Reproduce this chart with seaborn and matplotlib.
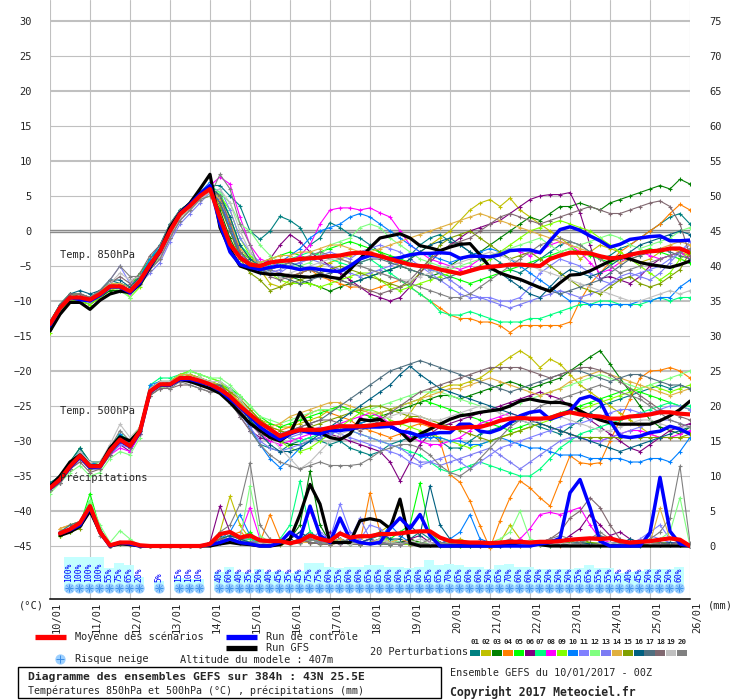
import numpy as np
import pandas as pd
import matplotlib
matplotlib.use("Agg")
import matplotlib.pyplot as plt
import matplotlib.transforms as mtransforms
from matplotlib.lines import Line2D
from matplotlib.patches import Rectangle
import seaborn as sns

NA = float("nan")

# ---------------- data ----------------
HOURS = list(range(0, 385, 6))            # 65 forecast steps (6 h)
DATES = ["10/01", "11/01", "12/01", "13/01", "14/01", "15/01", "16/01", "17/01", "18/01",
         "19/01", "20/01", "21/01", "22/01", "23/01", "24/01", "25/01", "26/01"]
MEMBERS = ["%02d" % i for i in range(1, 21)]
PERT_COLORS = ["#008080", "#c0c000", "#008000", "#ff8000", "#00ff00", "#800080", "#00ff80",
               "#ff00ff", "#80ff00", "#0080ff", "#8080ff", "#80ff80", "#7c7cf4", "#e0b040",
               "#80a000", "#006080", "#507080", "#806870", "#c0c0c0", "#808080"]

SNOW_HOURS = list(range(12, 384, 6))
SNOW_PCT = [100, 100, 100, 100, 55, 75, 65, 20, None, 5, None, 15, 10, 10, None, 40, 60, 40, 35, 50,
            40, 45, 35, 45, 75, 75, 60, 55, 60, 60, 65, 65, 60, 60, 55, 60, 85, 65, 70, 65,
            60, 60, 50, 65, 70, 60, 60, 50, 50, 50, 50, 55, 65, 55, 55, 35, 40, 45, 50, 50,
            50, 60]

# ---- 850 hPa temperature ----
T850_MEAN = [-13.3, -11, -9.5, -9.5, -9.8, -9, -7.9, -7.9, -8.6, -7.1, -4.8, -2.9, 0, 2.4, 3.6, 5, 6] + \
    [1.9, -1.9, -3.8, -4.8, -5, -4.5, -4.3, -4.2, -4, -3.9, -3.8, -3.6] + \
    [-3.5, -3.2, -3.1, -3.2, -3.6, -4, -4.4, -4.8, -5, -5.1, -5.5, -5.8] + \
    [-6.1, -5.7, -5.3, -5.1, -5, -4.8, -4.8, -4.9, -5, -4, -3.5, -3.1] + \
    [-3.1, -3.2, -3.6, -3.9, -3.8, -3.4, -3.1, -2.9, -2.8, -2.5, -2.5, -3.1]
T850_CTRL = [-13.5, -11, -9.5, -9.8, -10, -9.2, -8, -8, -8.8, -7.4, -5, -3, 0, 2.5, 3.8, 5.3, 6.5] + \
    [1, -3, -4.8, -5.2, -5.5, -5.2, -5, -5.2, -5.5, -5.3, -5.5, -5.7] + \
    [-5.8, -5, -4, -3.5, -3.6, -4, -3.8, -3.4, -3.2, -3.2, -3.1, -3.2] + \
    [-3.9, -3.6, -3.6, -3.7, -3.4, -2.8, -2.7, -2.7, -3.1, -1.4, 0.2, 0.6] + \
    [0.1, -0.7, -1.4, -2.3, -1.9, -1.2, -1, -0.8, -0.7, -1.4, -1.4, -1.3]
T850_GFS = [-14.3, -11.9, -10.2, -10.2, -11.2, -9.9, -9, -8.6, -8.8, -7.6, -5.2, -2.9, 0.5, 2.6, 4, 6, 8.1] + \
    [0.5, -2.6, -5, -5.5, -6, -6.2, -6.2, -6.4, -6.5, -6.6, -6.3, -6.6] + \
    [-6.8, -5.5, -4, -2.4, -1, -0.7, -0.4, -1, -2.1, -2.4, -2.8, -2.3] + \
    [-1.9, -1.8, -3.4, -5.2, -6, -6.5, -6.9, -7.5, -8.1, -8.6, -7.4, -6.3] + \
    [-6.2, -5.7, -5, -4.3, -3.6, -4, -4.5, -4.8, -5, -5.2, -4.8, -4.3]

T850_P01 = [-13, -10.5, -9, -9, -9.5, -8.5, -7, -7.5, -8, -6.5, -4, -2.5, 0.5, 3, 4, 5.5, 6.5] + \
    [6.5, 5, 3.6, 0, -1.2, 0, 2.1, 1.5, 0.5, -2, -1, 1.2] + [0.5, -0.5, -1, -2, -3, -4.5, -4, -3.5, -2, -1, -0.5, -1.5] + \
    [-2, -3, -4, -3.5, -4.5, -5.5, -6, -5, -4, -3, -2, -1.5] + [-2, -3, -4, -3.5, -2.5, -2, -1, 0, 1, 2, 2.5, 1]
T850_P02 = [-13.5, -11, -9.5, -10, -10, -9.5, -8.5, -8, -9, -7.5, -5.5, -3.5, -0.5, 2, 3.5, 4.5, 5.5] + \
    [5, 2, -2, -4, -5.5, -7.5, -8, -7, -6, -5.5, -5, -4.5] + [-4, -3.5, -3, -2.5, -3, -4, -5, -4, -3, -2, -1, 0] + \
    [1.5, 3, 4, 4.5, 3.5, 4.7, 3, 2, 1, 0, -1, -2] + [-4, -3, -2, -2.5, -3, -4, -4.5, -4, -3, -2.5, -3, -3.5]
T850_P03 = [-14, -11.5, -10, -10, -10.5, -9.5, -8.5, -8.5, -9, -7.5, -5, -3, 0, 2.5, 3.5, 5, 6] + \
    [3, -1, -4, -5, -5.5, -6, -6.5, -6.5, -7, -7.5, -8, -8.6] + [-8, -7.5, -7, -6.5, -6, -5.5, -5, -5.5, -6, -6.5, -6, -5] + \
    [-4, -3.5, -3, -2, -1, 0, 1, 2, 1.5, 2.5, 3.5, 3.5] + [4, 3.5, 3, 4, 4.5, 5, 5.5, 6, 6.5, 6, 7.4, 6.7]
T850_P04 = [-13.5, -11, -9.5, -9, -9.5, -8.5, -7.5, -8, -8.5, -7.5, -5.5, -4, -1, 1.5, 3, 4.5, 5.5] + \
    [4, 0, -3, -4.5, -5, -5.5, -6, -6.5, -6, -5.5, -6.5, -7] + [-7.5, -8, -8, -8.5, -8, -7.5, -7, -8, -9, -10, -11, -12] + \
    [-12.5, -12.5, -13, -13, -13.5, -14.5, -13.5, -13.5, -13.5, -13.5, -13.5, -13] + [-10, -7.6, -6, -4.5, -3, -2, -1, 0, 1, 2.5, 3.8, 3]
T850_P05 = [-13, -10.5, -9, -9, -9.5, -8.5, -7.5, -7.5, -8, -6, -4, -2, 1, 3, 4, 5.5, 6.5] + \
    [5, 1, -3, -4, -4.5, -4, -3.5, -3, -3.5, -4, -3, -2.5] + [-2, -1.5, -2, -2.5, -3, -3.5, -4, -4.5, -5, -5.5, -6, -6.5] + \
    [-7, -7.5, -7, -6.5, -6, -5.5, -5, -4.5, -4, -3.5, -3, -2.5] + [-3, -3.5, -4, -4.5, -4, -3.5, -3, -2.5, -3, -3.5, -4, -4.5]
T850_P06 = [-13.5, -11, -9.5, -9, -9.5, -9, -7.5, -7.5, -8.5, -7, -4.5, -2.5, 0.5, 2.5, 4, 5.5, 6.5] + \
    [4, 1, -3, -4.5, -5, -4, -2, -0.5, -1.5, -3, -4, -5] + [-6, -7, -8, -9, -9.5, -10, -9.5, -8, -6, -4.5, -3, -2] + \
    [-1, 0, 0.5, 1, 1.5, 2.5, 3.5, 4.5, 5, 5.2, 5.2, 5.5] + [2.6, -2, -6.8, -6.5, -7, -7.5, -6.5, -5, -4, -3.5, -3, -4]
T850_P07 = [-13, -10.5, -9, -9.5, -9.5, -8.5, -7.5, -8, -8.5, -6.5, -4, -2, 1, 3, 4, 5.5, 6.5] + \
    [5.5, 2, -2, -3.5, -4.5, -5, -4.5, -4, -3.5, -3, -3.5, -4] + [-4.5, -5, -4.5, -4, -5, -6, -7, -8, -9, -10, -11.5, -12] + \
    [-12, -11.5, -12, -12.5, -13, -13, -13, -12.5, -12.5, -12, -11.5, -11] + [-10.5, -10.5, -10, -10, -10.5, -10.5, -10.5, -10, -9.5, -10, -9.5, -9.5]
T850_P08 = [-13.5, -11, -9.5, -9.5, -10, -9, -8, -8, -9, -7, -4.5, -2.5, 0.5, 2.5, 3.5, 5, 6.5] + \
    [7.7, 6.7, 2, -2, -4, -4.5, -5, -4.5, -3.5, -2, 1, 3] + [3.3, 3.3, 3, 3.3, 2.6, 2, 0, -2, -3, -4, -4.5, -5] + \
    [-5.5, -5, -4, -3.5, -3, -2.5, -3, -3.5, -3, -2, -1.5, -2] + [-3, -4.5, -6, -5.5, -4.5, -3.5, -3, -3.5, -4, -3.5, -3, -4]
T850_P09 = [-14.5, -11.5, -10, -10, -10.5, -9.5, -8, -8, -9.5, -8, -5.5, -3.5, -0.5, 2, 3, 4.5, 5] + \
    [5, 3, -1, -3.5, -5, -6, -7, -7.5, -7.5, -7.5, -8, -7.5] + [-7, -6.5, -6, -6, -7, -8, -8.5, -8, -7.5, -7, -6.5, -6] + \
    [-6, -5.5, -5, -4, -3, -2, -1, 0, 0.5, 1, 1.5, 1] + [0.5, 0, -1, -2, -3, -4, -5, -6, -7, -6, -4, -3]
T850_P10 = [-13, -10.5, -9, -9, -9.5, -8.5, -7.5, -7.5, -8, -6.5, -4, -2, 1, 3, 4, 5.5, 7] + \
    [4, 0.5, -3.5, -5.5, -6, -5.5, -4.5, -3.5, -2.5, -1, 0, 0.5] + [1, 2, 2.5, 2, 1, 0, -1, -2, -3, -3.5, -4, -4.5] + \
    [-4, -3.5, -3, -2.5, -3, -4, -5, -6, -7, -8, -9, -10] + [-10, -10.5, -10.5, -10.5, -10.5, -10.5, -10, -10, -9.5, -9.5, -8, -7]
T850_P11 = [-13.5, -11, -9.5, -9.5, -9.5, -8.5, -7, -5, -7.5, -7, -5.5, -4, -1, 1.5, 3, 4.5, 5.5] + \
    [6, 3, -1, -3, -4.5, -5.5, -6, -5, -4.5, -4, -3.5, -3] + [-3.5, -4, -3, -2.5, -2, -2.5, -3, -4, -5, -6, -7, -8] + \
    [-9, -9.5, -9.5, -9.5, -10, -10, -9.5, -8, -6, -5, -4, -4.5] + [-5, -6, -7, -7.5, -7, -6.5, -6, -5.5, -5, -4, -3, -2]
T850_P12 = [-13.5, -11, -9.5, -9.5, -10, -9, -8, -8.5, -9.5, -7.5, -5, -3, 0, 2.5, 3.5, 5, 6] + \
    [5.5, 4, 1, 0, -2, -3.5, -4.5, -5, -5, -4.5, -3.5, -2] + [-1.5, -1, 0.5, 1, 0.5, -1, -2, -3, -4, -4.5, -5, -5.5] + \
    [-5, -4.5, -4, -3.5, -3, -2.5, -2, -1.5, -1, -2, -3, -2.5] + [-2, -1.5, -1, -0.5, -1, -2, -2.5, -2, -1.5, -1, 0, 0.5]
T850_P13 = [-13.5, -11, -9.5, -10, -10, -9, -8, -8, -8.5, -7.5, -6, -4.5, -1.5, 1, 2.5, 4, 5.5] + \
    [4.5, 1, -3, -5, -5.5, -6, -5.5, -5, -4.5, -4, -4.5, -5] + [-5.5, -6, -6.5, -6, -5.5, -5, -4.5, -4.5, -5, -5.5, -6, -7] + \
    [-8, -9, -9.5, -10, -10.5, -11, -10.5, -10, -9.5, -9, -8.5, -9] + [-9.5, -9, -8.5, -7.5, -6.5, -6, -6.5, -7, -6, -4.5, -3, -1.5]
T850_P14 = [-13, -10.5, -9, -9, -9.5, -8.5, -7.5, -7.5, -8, -6.5, -5, -3.5, -0.5, 2, 3.5, 5, 6] + \
    [4.5, 1.5, -2.5, -4, -4.5, -4, -3.5, -3.5, -3, -3, -2.5, -2] + [-2, -2.5, -3, -3, -2.5, -2, -1.5, -1, -0.5, 0, 0.5, 1] + \
    [1.5, 2, 2.5, 2, 1.5, 1, 0.5, 0, -0.5, -1, -1.5, -2] + [-2.5, -3, -3.5, -4, -4.5, -4, -3.5, -3, -2.5, -2, -1.5, -2]
T850_P15 = [-13.5, -11, -9.5, -9.5, -10, -9, -8, -8, -8.5, -7, -4.5, -2.5, 0.5, 2.5, 3.5, 5, 6] + \
    [3.5, 0, -4, -6, -7, -8.5, -8, -7.5, -7, -6.5, -6, -5.5] + [-5, -5.5, -6, -6.5, -7, -7.5, -8, -7.5, -6, -4, -2, -1] + \
    [-0.5, 0, -1, -2, -3, -4, -3.5, -3, -4, -5, -6, -7] + [-8, -8.5, -9, -8, -7, -6.5, -7.5, -8, -7.5, -6.5, -5.5, -3]
T850_P16 = [-13, -10.5, -9, -8.5, -9, -8.5, -7, -7, -8, -6.5, -4.5, -2.5, 0.5, 2.5, 4, 5.5, 6.5] + \
    [5, 2, -2, -4, -5, -5.5, -5, -4.5, -5, -5.5, -6, -6.5] + [-7, -7.5, -7, -6.5, -6, -5.5, -5, -4, -3, -2, -1.5, -1] + \
    [-2, -3, -4, -5, -6, -7, -8, -9, -9.5, -8, -6.5, -5.5] + [-6, -6.5, -6, -5, -4, -3, -2, -1.5, -1, -0.5, 0, -0.5]
T850_P17 = [-13.5, -11, -9.5, -9.5, -10, -9, -8, -8, -8.5, -7, -4.5, -3, 0, 2.5, 3.5, 5, 6] + \
    [4, 0, -3.5, -5, -5.5, -6, -6.5, -7, -7.5, -7, -6.5, -6] + [-5.5, -5, -4.5, -4, -4, -4.5, -5, -5.5, -6, -6.5, -7, -6.5] + \
    [-6, -5.5, -5, -5.5, -6, -6.5, -7, -7.5, -8, -8.5, -9, -8.5] + [-8, -7.5, -7, -6, -5, -4, -3.5, -3, -2.5, -3, -3.5, -4]
T850_P18 = [-13, -10.5, -9, -9, -9.5, -9, -7.5, -6.5, -7.5, -6, -3.5, -2, 1, 3, 4, 5, 6] + \
    [5, 1, -3, -4.5, -5, -6.5, -7, -6.5, -6, -5.5, -6, -6.5] + [-7, -7.5, -8, -8.5, -9, -8.5, -8, -7, -5.5, -4, -3, -2] + \
    [-1.5, -1, 0, 1, 2, 2.5, 2, 1.5, 1, 1.5, 2, 2.5] + [3, 3.5, 3, 2.5, 2.5, 3, 3.5, 4, 4.3, 3.5, 1, -3.5]
T850_P19 = [-13.5, -11, -9.5, -9.5, -10, -9, -7.5, -6, -7, -6.5, -5, -3.5, -0.5, 2, 3, 4.5, 5.5] + \
    [6, 4, 0, -3, -5, -6, -6.5, -6, -5.5, -5, -4.5, -4] + [-4, -4.5, -5, -5.5, -6, -6.5, -7, -7, -6.5, -6, -5.5, -5] + \
    [-4.5, -4, -3.5, -3, -3.5, -4, -4.5, -5, -5.5, -6, -6.5, -7] + [-7.5, -8, -8.5, -9, -9.5, -10, -10, -9.5, -9, -8.5, -9, -8.5]
T850_P20 = [-13.5, -11, -9.5, -9.5, -9.5, -8.5, -7, -5, -6.5, -6.5, -5.5, -4, -1, 1.5, 3, 4.5, 5] + \
    [8.1, 6, 1, -2, -5.5, -5.5, -5, -4.5, -4, -3.5, -3, -3.5] + [-4, -4.5, -5, -5.5, -6, -6.5, -7, -7.5, -8, -8.5, -9, -9.5] + \
    [-9.5, -9, -8, -7, -6, -5, -4, -3, -2, -1.5, -1, -1.5] + [-2, -3, -4, -5, -6, -5.5, -5, -4.5, -4, -3.5, -3, -2.5]

# ---- 500 hPa temperature ----
T500_MEAN = [-36.7, -35.5, -33.6, -32.1, -33.6, -33.6, -31.4, -29.8, -30.7, -28.6, -22.9, -21.9, -21.9, -21, -21, -21.4, -21.9] + \
    [-22.6, -23.6, -25, -26.2, -27.4, -28.3, -29.3, -28.8, -28.4, -28.4, -28.4, -28.1] + \
    [-27.9, -27.9, -27.9, -27.8, -27.6, -27.5, -27.4, -27, -27.1, -27.6, -28, -28.2] + \
    [-28.1, -28, -28, -27.6, -27.1, -26.8, -26.7, -26.8, -26.8, -26.7, -26.2, -25.9] + \
    [-26.2, -26.4, -26.5, -26.8, -26.8, -26.5, -26.4, -26.2, -25.9, -25.9, -26.1, -26.2]
T500_CTRL = [-36.8, -35.6, -33.8, -32.3, -33.8, -33.7, -31.5, -30, -30.8, -28.8, -23, -22, -22, -21.2, -21.2, -21.6, -22] + \
    [-22.8, -24, -25.2, -26.5, -28, -29, -29.8, -29, -28.5, -28.8, -29, -28.5] + \
    [-28.5, -28.3, -28, -28, -28, -27.9, -28.6, -28.8, -29.3, -29, -28.8, -28.8] + \
    [-27.6, -27.6, -28.6, -28.8, -28.3, -27.4, -26.4, -25.9, -25.7, -26.9, -26.4, -25.7] + \
    [-24, -23.6, -24.3, -27.1, -29.3, -29.5, -29.3, -28.8, -28.6, -27.9, -28.3, -29]
T500_GFS = [-36.5, -35, -33, -32, -33.5, -33.5, -31, -29.4, -30, -28.5, -23, -22, -22, -21.2, -21.5, -22, -22.5] + \
    [-23.2, -24.5, -26, -27.5, -28.5, -29.5, -30, -29, -25.9, -28.1, -28.8, -29.5] + \
    [-29.8, -29, -26.9, -27.1, -26.9, -27.9, -28.6, -30, -29, -28.3, -27.6, -26.9] + \
    [-26.4, -26.2, -25.9, -25.7, -25.5, -25, -24.3, -24, -24.3, -24.5, -24.5, -24.8] + \
    [-25.7, -26.4, -27, -27.4, -27.6, -27.6, -27.6, -27.6, -27.1, -26.4, -25.5, -24.3]

T500_P01 = [-36.5, -35, -33, -31.5, -33, -33.5, -31, -29.5, -30.5, -28.5, -23, -22, -21.5, -20.5, -20.5, -21, -21.5] + \
    [-22, -22.5, -24, -28.5, -30.5, -31, -31.5, -30.5, -30, -29.5, -30, -30.5] + [-30, -31, -31.5, -32, -31.5, -30.5, -30, -29.5, -29, -29, -30, -31] + \
    [-31, -30, -29, -28.5, -28, -27.5, -27, -27.5, -28, -28.5, -29, -28] + [-27, -26, -25, -24.5, -24, -23.5, -23, -22.5, -22, -22.5, -22, -22.5]
T500_P02 = [-37, -36, -34, -32.5, -34, -34, -32, -30, -31, -29, -23, -22, -22, -21.5, -21.5, -22, -22.5] + \
    [-22, -23, -24.5, -26, -27, -27.5, -28, -28, -27.5, -27, -26.5, -25.5] + [-25, -25.5, -26, -26.5, -27, -27.5, -27.5, -26, -24, -23, -22.5, -22] + \
    [-22, -21.5, -21, -20, -19, -18, -17.1, -18, -19.5, -18.3, -19, -20.5] + [-22, -23, -24, -25, -26, -27, -28, -29, -29.5, -29.5, -29.5, -29.5]
T500_P03 = [-36.5, -35.5, -33.5, -31.5, -33.5, -33.5, -31.5, -29.5, -31, -28.5, -22.5, -21.5, -21.5, -21, -21, -21.5, -22] + \
    [-22.5, -23.5, -25, -27, -28.5, -29.5, -30, -30.5, -30.5, -30, -29.5, -29] + [-28.5, -28, -27.5, -27, -26.5, -26, -25.5, -25, -24.5, -24, -23.5, -23.5] + \
    [-24, -23.5, -23, -22.5, -22, -21.5, -22, -22.5, -22, -21.5, -21, -20] + [-19, -18, -17.1, -19, -21, -23, -25, -27, -28, -28.5, -29, -28]
T500_P04 = [-37, -35.5, -34, -32.5, -34, -34, -31, -29.5, -30, -28, -22.5, -21.5, -22, -21, -20.5, -21, -21.5] + \
    [-22, -23, -24, -25.5, -27, -28, -28.5, -28, -27, -26, -25.5, -26] + [-26.5, -27, -28, -28.5, -29, -29.5, -29, -28, -27.5, -28, -30, -34.8] + \
    [-35.9, -38.6, -42.1, -45.3, -41.4, -38.1, -35.7, -36.7, -38.1, -39.3, -35.7, -32.1] + [-33.1, -33.3, -33.1, -30, -27, -24, -21, -20, -19.9, -19.5, -20, -21]
T500_P05 = [-36.5, -35, -33, -31, -33, -33, -31, -29, -30.5, -28.5, -22.5, -21.5, -21.5, -20.5, -20.5, -21, -21.5] + \
    [-22, -22.5, -23.5, -25, -26.5, -27.5, -28, -27.5, -27, -26.5, -26, -25.5] + [-25, -25.5, -26, -26.5, -26, -25.5, -25, -24.5, -24, -24.5, -25, -25.5] + \
    [-26, -26.5, -27, -27.5, -28, -28.5, -28, -27.5, -27, -26.5, -26, -25.5] + [-25, -24.5, -24, -23.5, -23, -22.5, -23, -23.5, -24, -24.5, -25, -25.5]
T500_P06 = [-37, -36, -34, -32.5, -34, -33.5, -32, -30.5, -31.5, -29, -23.5, -22.5, -22, -21.5, -21.5, -22, -22.5] + \
    [-22.5, -24, -26.5, -28.5, -29.5, -30, -29.5, -29, -28.5, -28, -28.5, -29] + [-29.5, -30, -30.5, -31, -31.5, -33, -35.7, -33, -30.5, -29, -28, -27.5] + \
    [-27, -26.5, -26, -25.5, -25, -24.5, -24, -23.5, -23, -23.5, -24, -25] + [-26, -27, -28, -29, -30, -31, -31.5, -30.5, -29.5, -28.5, -28, -27.5]
T500_P07 = [-36, -35, -33, -31.5, -33.5, -33.5, -31, -29, -30, -28, -22, -21, -21, -20.5, -20, -20.5, -21] + \
    [-21.5, -22.5, -24, -26, -27.5, -28.5, -29, -29.5, -30, -29.5, -29, -28.5] + [-28, -28.5, -29, -29.5, -30, -30.5, -31, -31.5, -32, -33, -34, -34.5] + \
    [-34, -33.5, -33, -33.5, -34, -34.5, -35, -35, -34, -32.5, -31, -30] + [-29, -28.5, -28, -27.5, -27, -26.5, -26, -25.5, -25, -24.5, -25, -25]
T500_P08 = [-36.5, -35.5, -33.5, -32, -33.5, -33.5, -32, -31, -31.5, -29, -23, -22, -22, -21, -21, -21.5, -22] + \
    [-22.5, -24, -25.5, -27.5, -29, -30, -30.5, -30, -29.5, -29, -28.5, -28] + [-27.5, -27, -26.5, -26, -26.5, -27.5, -28.5, -29.5, -30, -30.5, -30.5, -30] + \
    [-29.5, -28.5, -27.5, -27, -26.5, -26, -26.5, -27, -27.5, -28, -28.5, -29] + [-29.5, -30, -30, -29.5, -29, -28.5, -28.5, -29, -29.5, -29.5, -29, -28.5]
T500_P09 = [-37, -35.5, -33.5, -32, -33.5, -33, -31, -29.5, -30, -28, -22.5, -21.5, -21.5, -20.5, -20, -20.5, -21] + \
    [-21.5, -23, -24.5, -26, -27.5, -28.5, -30, -31, -31.5, -31, -30, -29] + [-28, -27, -26, -25.5, -26, -27, -27.5, -28, -28.5, -29, -29.5, -30] + \
    [-30.5, -31, -30.5, -30, -29.5, -29, -28.5, -28, -27.5, -27, -26.5, -26] + [-25.5, -25, -24.5, -24, -23.5, -23, -22.5, -22, -22.5, -23, -22.5, -22]
T500_P10 = [-36.5, -35, -33, -31.5, -33, -33.5, -31.5, -29, -30.5, -28.5, -22, -21.5, -21.5, -21, -21, -21.5, -22] + \
    [-22.5, -24, -26, -28, -30.5, -32.5, -33.8, -32.5, -31, -30, -29.5, -29] + [-28.5, -28, -27.5, -27, -27.5, -28, -28.5, -29, -29.5, -29.5, -29.5, -30] + \
    [-30, -30.5, -30.5, -30, -29.5, -30, -30.5, -31, -31, -31.5, -32, -32] + [-32, -32.5, -32.5, -32.5, -32.5, -33, -33, -32.5, -32.5, -33, -31.5, -29.5]
T500_P11 = [-37, -35.5, -33.5, -32, -34, -34, -32, -30.5, -31, -29, -23, -22, -22, -21, -21, -21.5, -22] + \
    [-22, -23.5, -25, -26.5, -28, -29, -29.5, -29.5, -29, -28.5, -28, -28.5] + [-29, -29.5, -30, -30.5, -31, -31.5, -32, -33, -33.5, -33, -32.5, -32] + \
    [-33, -34, -33, -32, -31, -30.5, -30, -29.5, -29, -28.5, -28, -27.5] + [-27.5, -27, -26.5, -26, -25.5, -25.5, -26, -26, -25.5, -25, -25, -25.5]
T500_P12 = [-37.5, -36, -34.5, -33.5, -35, -34.5, -32.5, -31.5, -32, -29.5, -23.5, -22.5, -22, -21, -20, -20.5, -21] + \
    [-21, -22, -23.5, -25, -26.5, -27, -27.5, -27, -26.5, -26, -25.5, -25.5] + [-25.5, -25.5, -25.5, -25.5, -25, -24.5, -24, -23.5, -23, -23, -23, -23.5] + \
    [-24, -24.5, -25, -25.5, -25.5, -25, -24.5, -24, -23.5, -23, -22.5, -22] + [-21.5, -21, -20.5, -21, -21.5, -22, -22.5, -22, -21.5, -21, -20.5, -20]
T500_P13 = [-37, -36, -34, -32.5, -34, -34, -32, -30, -31, -29, -23, -22, -22, -21.5, -21.5, -22, -22.5] + \
    [-22.5, -24, -26, -28, -30, -31, -31.5, -31, -30.5, -30, -29.5, -29] + [-28.5, -28.5, -29, -29.5, -30, -30.5, -31, -32, -33, -33, -33.5, -33] + \
    [-32.5, -32, -31.5, -31, -32, -33, -34, -33, -32, -31, -30, -29.5] + [-29.5, -30, -30, -29.5, -29, -28.5, -28, -27.5, -27, -27, -27.5, -28]
T500_P14 = [-36.5, -35, -33.5, -32, -33.5, -33.5, -31, -29.5, -30.5, -28.5, -22.5, -21.5, -21.5, -20.5, -20.5, -21, -21.5] + \
    [-22, -23, -24.5, -26, -27.5, -28, -27.5, -26.5, -26, -25.5, -25, -24.5] + [-24.5, -25, -25.5, -26, -26, -25.5, -25, -24.5, -24, -23.5, -23, -22.5] + \
    [-22.5, -22, -21.5, -21, -21.5, -22, -22.5, -23, -23.5, -23, -22.5, -21.5] + [-21, -20.5, -20, -20.5, -21, -21.5, -22, -22.5, -23, -23.5, -23, -22.5]
T500_P15 = [-37, -35.5, -34, -32.5, -34, -33.5, -31.5, -30, -30.5, -28.5, -23, -22, -22, -21, -21, -21.5, -22] + \
    [-22, -23, -24, -25.5, -27, -28, -28.5, -29, -28.5, -28, -27.5, -27] + [-26.5, -26, -25.5, -25, -25, -25.5, -26, -26.5, -26.5, -27, -27.5, -28] + \
    [-28.5, -29, -29.5, -30, -29.5, -29, -28.5, -28, -27.5, -28, -28.5, -29] + [-29.5, -29.5, -29.5, -29.5, -29.5, -29.5, -29.5, -29.5, -29.5, -29.5, -29.5, -29]
T500_P16 = [-36, -35, -33, -31, -33, -33, -31, -29.5, -30.5, -28.5, -22.5, -21.5, -21.5, -21, -21, -21.5, -22] + \
    [-22.5, -23.5, -25, -27, -29, -30.5, -31.5, -31.5, -31, -30, -29, -28] + [-27, -26, -25, -24, -23, -22, -20.5, -19.3, -20.5, -21.5, -22.5, -23] + \
    [-23.5, -24, -24.5, -25, -25.5, -26, -26.5, -27, -27.5, -28, -28.5, -29] + [-29.5, -30, -30.5, -31, -31.5, -31, -30.5, -30, -29.5, -29, -28.5, -28]
T500_P17 = [-36.5, -35.5, -33.5, -32, -33.5, -33.5, -31.5, -30, -30.5, -28.5, -22.5, -22, -22, -21, -21, -21.5, -22] + \
    [-22, -23.5, -25, -26.5, -28, -29, -29, -28.5, -28, -27.5, -27, -26] + [-25, -24, -23, -22, -21, -20, -19.5, -19, -18.5, -19, -19.5, -20] + \
    [-20.5, -21, -21.5, -22, -22.5, -23, -22.5, -22, -21.5, -21, -20.5, -20] + [-20, -20.5, -21, -21.5, -21, -20.5, -20.5, -21, -21.5, -22, -22, -22.5]
T500_P18 = [-37, -36, -34, -33, -34.5, -34, -32, -30, -31, -29, -23.5, -22.5, -22.5, -22, -22, -22.5, -23] + \
    [-22.5, -24, -25.5, -27.5, -29, -29.5, -29, -28.5, -28, -27.5, -27, -27] + [-27.5, -28, -28.5, -28, -27, -26, -25, -24, -23, -22.5, -22, -21.5] + \
    [-21, -20.5, -20, -19.5, -19.5, -19.5, -19.5, -20, -20.5, -21, -20.5, -20] + [-19.5, -19.5, -19.9, -20.5, -21.5, -22.5, -23.5, -24.5, -25.5, -26, -26.5, -27]
T500_P19 = [-36.5, -35, -33, -31.5, -33, -33, -30.5, -27.6, -29.5, -28, -22.5, -21.5, -21.5, -21, -21, -21, -21.5] + \
    [-21.5, -22.5, -24, -26, -28, -29.5, -31, -32.5, -34, -33, -31.5, -30] + [-29, -28.5, -28, -27.5, -27, -26.5, -26, -26, -26.5, -27, -27, -26.5] + \
    [-26, -25.5, -25, -25.5, -26, -26.5, -27, -27.5, -27, -26.5, -26.5, -27] + [-27.5, -28, -28.5, -28.5, -28, -27.5, -27, -27, -27.5, -28, -28, -28]
T500_P20 = [-37, -36, -34, -32, -33.5, -33.5, -31, -28.5, -30, -28.5, -23, -22, -22.5, -21.5, -22, -22.5, -23] + \
    [-23, -24.5, -26.5, -28.5, -30.5, -32, -33, -33.5, -34, -33.5, -33, -33.5] + [-33.5, -33.5, -33.3, -32.5, -31.5, -31, -30.5, -30.5, -31, -32, -33.5, -34.5] + \
    [-35, -34, -32.5, -31, -29.5, -28, -27, -26, -25, -24.5, -24, -23.5] + [-23, -22.5, -22, -22.5, -23, -23.5, -24, -25, -26, -27, -27.5, -28]

# ---- precipitation (mm / 6 h) ----
PR_MEAN = [NA, 1.8, 2.4, 3.3, 5.7, 2, 0.1, 0.5, 0.5, 0.1, 0, 0, 0, 0, 0, 0, 0.3] + \
    [1.7, 2, 1.2, 1.5, 0.8, 0.7, 0.7, 0.4, 0.7, 1.5, 1, 0.7] + [1.8, 1.2, 1.4, 1.4, 1.7, 1.7, 1.8, 2, 2.1, 2.1, 1.2, 0.7] + \
    [0.6, 0.5, 0.5, 0.4, 0.5, 0.6, 0.6, 0.5, 0.6, 0.6, 0.7, 0.9] + [1, 1.1, 1, 1.1, 0.7, 0.5, 0.6, 0.7, 0.9, 1.1, 0.9, 0]
PR_CTRL = [NA, 1.8, 2.3, 3, 5.5, 2, 0, 0.5, 0.3, 0, 0, 0, 0, 0, 0, 0, 0.2] + \
    [0.5, 1, 0.5, 0.3, 0, 0, 0.5, 2, 1, 5.7, 1.5, 0.5] + [4, 1, 0.5, 0.3, 0.5, 2.5, 4, 2.5, 4.5, 1.5, 0, 0] + \
    [0, 0, 0, 0, 0, 0, 0, 0, 0.3, 0.5, 1.1, 7.6] + [9.5, 5.5, 0.7, 0, 0, 0, 0, 1.9, 9.8, 2.1, 0.3, 0]
PR_GFS = [NA, 1.5, 2, 2.8, 5, 2, 0, 0.3, 0.2, 0, 0, 0, 0, 0, 0, 0, 0] + \
    [0.3, 0.5, 0.3, 0.2, 0, 0, 0.2, 1, 4.5, 8.8, 6, 0.5] + [0.5, 0.5, 3.6, 3.9, 3.6, 2.5, 6.7, 0.4, 0, 0, 0, 0] + \
    [0, 0, 0, 0, 0, 0.2, 0.5, 0.5, 0.2, 0, 0, 0] + [0, 0, 0, 0, 0, 0, 0, 0, 0, 0, 0, 0]

PR_P01 = [NA, 2, 2.5, 3, 5, 2, 0, 0.5, 0.5, 0, 0, 0, 0, 0, 0, 0, 0.3] + [1.5, 2, 1, 1, 0.5, 0.5, 0.3, 0.5, 1, 2, 1, 0.5] + \
    [1, 0.5, 0.5, 1, 1.5, 1, 0.5, 1, 2, 1, 0.5, 0.3] + [0.2, 0, 0, 0.3, 0.5, 0.3, 0, 0.2, 0.5, 0.3, 0.2, 0.5] + [0.5, 0.3, 0.2, 0.3, 0.5, 0.2, 0, 0.3, 0.5, 0.3, 0.2, 0]
PR_P02 = [NA, 1.5, 2, 3, 6, 2.5, 0, 0.3, 0.2, 0, 0, 0, 0, 0, 0, 0, 0.5] + [2, 7.1, 3, 1, 0.5, 0.5, 0.3, 0.5, 1, 0.8, 1, 0.5] + \
    [0.3, 0.5, 1, 1.5, 2, 3, 6, 1, 0.5, 0.3, 0.2, 0.5] + [1, 0.5, 0.3, 0.2, 0.5, 3, 1, 0.3, 0.5, 0.2, 0.1, 0.3] + [0.5, 0.3, 0.2, 0.3, 0.5, 0.2, 0.1, 0.3, 0.2, 0.3, 0.5, 0]
PR_P03 = [NA, 2, 2.5, 3.5, 6, 2, 0, 0.5, 0.3, 0, 0, 0, 0, 0, 0, 0, 0.2] + [1, 1.5, 1, 0.5, 0.3, 0.5, 0.3, 1, 3, 10.7, 3, 0.5] + \
    [0.5, 0.3, 0.5, 1, 0.5, 0.3, 0.5, 1, 0.5, 0.2, 0, 0] + [0, 0, 0.2, 0.1, 0, 0, 0.2, 0, 0.1, 0, 0.3, 0.5] + [0.3, 0.2, 0, 0.2, 0.5, 0.3, 0.2, 0.1, 0.3, 0.5, 0.3, 0]
PR_P04 = [NA, 2.5, 3, 3.5, 5.5, 2, 0, 0.5, 0.5, 0, 0, 0, 0, 0, 0, 0, 0.3] + [1, 1.5, 2, 1, 0.5, 4.5, 1, 0.5, 0.5, 1, 0.5, 0.3] + \
    [0.5, 1, 0.5, 7.6, 2, 0.5, 0.3, 0.2, 0.5, 0.3, 0.2, 0.1] + [0, 0.3, 0.2, 0, 0.2, 0.1, 0, 0.2, 0.3, 0.1, 0, 0.2] + [0.3, 0.5, 0.2, 0.1, 0.3, 0.2, 0.1, 0.2, 0.3, 0.2, 0.1, 0]
PR_P05 = [NA, 1.5, 2, 3, 7.5, 2.5, 0, 0.3, 0.2, 0, 0, 0, 0, 0, 0, 0, 0.2] + [1, 1.5, 1, 2, 0.5, 0.3, 0.5, 0.3, 0.5, 1, 0.5, 0.3] + \
    [0.5, 0.3, 0.5, 0.5, 1, 1, 2, 3, 9, 2, 0.5, 0.3] + [0.1, 0.3, 0.5, 0.2, 0, 0.3, 0.5, 0.3, 0.2, 0.5, 0.3, 0.2] + [0.3, 0.5, 0.3, 0.2, 0.3, 0.5, 0.2, 0.1, 0.3, 0.5, 0.2, 0]
PR_P06 = [NA, 2, 2.5, 3, 5, 2, 0, 0.5, 0.3, 0, 0, 0, 0, 0, 0, 0, 0.5] + [5.7, 2, 1, 0.5, 1, 0.5, 0.3, 1, 2, 1, 0.5, 2] + \
    [1, 0.5, 0.3, 0.5, 1, 0.5, 0.3, 1, 1.5, 0.5, 0.3, 1] + [0.5, 0.3, 0, 0.2, 0, 0.3, 0.2, 0.1, 0.5, 1, 0.5, 1.5] + [2.5, 4.5, 3, 1.5, 2, 1, 0.5, 0.3, 0.2, 0.5, 0.3, 0]
PR_P07 = [NA, 2, 3, 3.5, 6.5, 2.5, 0, 0.5, 0.5, 0, 0, 0, 0, 0, 0, 0, 0.3] + [1, 1, 0.5, 1, 0.5, 0.5, 1, 3, 9.3, 2, 0.5, 0.3] + \
    [0.5, 0.3, 0.2, 0.5, 1, 0.5, 0.3, 0.5, 0.3, 0.2, 0.1, 0] + [0, 0.2, 0.1, 0, 0.3, 0.5, 0.3, 0.2, 0.1, 0.3, 0.5, 0.2] + [0.3, 0.2, 0.1, 0.2, 0.5, 0.3, 0.2, 0.5, 0.3, 0.2, 0.5, 0]
PR_P08 = [NA, 2, 2.5, 3, 5, 2, 0, 0.3, 0.2, 0, 0, 0, 0, 0, 0, 0, 0.2] + [0.5, 1, 1.5, 5.5, 1, 0.5, 0.3, 0.5, 1, 5, 1.5, 0.5] + \
    [0.3, 0.5, 0.5, 1, 0.5, 0.3, 0.5, 0.2, 0.1, 0.3, 0.5, 0.2] + [0.1, 0.2, 0, 0.3, 0.5, 0.3, 1, 2.5, 4.5, 4.8, 4.5, 5] + [5.5, 3, 1, 0.5, 0.3, 0.2, 0.5, 0.3, 0.2, 0.5, 0.3, 0]
PR_P09 = [NA, 1.5, 2.5, 3, 6, 2, 0, 0.3, 0.3, 0, 0, 0, 0, 0, 0, 0, 0.3] + [1, 1.5, 1, 0.5, 0.5, 0.3, 0.5, 0.5, 1, 0.5, 0.3, 0.5] + \
    [1, 0.5, 0.3, 0.5, 1, 0.5, 0.3, 0.2, 0.5, 0.3, 0.2, 0.1] + [0, 0.2, 0.3, 0.5, 0.2, 0.1, 0.3, 0.5, 0.2, 0.1, 0.3, 0.2] + [0.1, 0.3, 0.5, 0.3, 0.2, 0.3, 0.5, 1, 0.5, 0.3, 0.2, 0]
PR_P10 = [NA, 2, 2.5, 3, 5.5, 2, 0, 0.5, 0.3, 0, 0, 0, 0, 0, 0, 0, 0.3] + [1, 2, 4.5, 1.5, 1, 0.5, 0.5, 0.3, 0.5, 1, 0.5, 0.5] + \
    [1, 0.5, 0.3, 0.5, 1, 3, 1.5, 0.5, 0.3, 0.2, 0.3, 1] + [2, 4.5, 1, 0.5, 0.3, 0.2, 0.1, 0.3, 0.5, 0.2, 0.1, 0.3] + [0.5, 0.2, 0.1, 0.3, 0.5, 0.2, 0.1, 0.3, 0.2, 0.1, 0.2, 0]
PR_P11 = [NA, 2, 2.5, 3, 5, 2, 0, 0.5, 0.3, 0, 0, 0, 0, 0, 0, 0, 0.5] + [1, 1.5, 1, 0.5, 1, 0.5, 0.3, 0.5, 0.5, 1, 2, 1] + \
    [6, 2, 1, 3, 2.5, 1, 0.5, 0.3, 0.5, 0.3, 0.2, 0.1] + [0.3, 0.5, 0.3, 0.2, 0, 0.3, 0.2, 0.1, 0.3, 0.5, 0.3, 0.2] + [0.5, 0.3, 0.2, 0.3, 0.5, 0.3, 1, 2, 3, 1, 0.5, 0]
PR_P12 = [NA, 1.5, 2, 3, 6.5, 3, 0.5, 2.2, 1, 0, 0, 0, 0, 0, 0, 0, 0.3] + [1, 1.5, 1, 8.6, 1.5, 0.5, 0.5, 0.3, 0.5, 1, 0.5, 0.3] + \
    [0.5, 1, 0.5, 0.3, 0.5, 1, 0.5, 0.3, 0.5, 0.3, 0.2, 0.1] + [0.3, 0.5, 0.3, 0.5, 1, 2, 5, 1, 0.5, 0.3, 0.2, 0.5] + [0.3, 0.2, 0.5, 0.3, 0.2, 0.5, 0.3, 0.5, 1, 2, 6.9, 0]
PR_P13 = [NA, 2, 2.5, 3.5, 5, 2, 0, 0.3, 0.3, 0, 0, 0, 0, 0, 0, 0, 0.2] + [0.5, 1, 0.5, 0.5, 0.3, 0.2, 0.5, 0.5, 1, 0.5, 0.5, 1] + \
    [2, 1, 4, 1, 0.5, 0.3, 0.2, 0.5, 0.3, 0.2, 0.1, 0.2] + [0.3, 0.5, 0.2, 0.1, 0.3, 0.5, 0.3, 0.2, 0.1, 0.3, 0.2, 0.5] + [0.3, 0.2, 0.5, 0.3, 0.2, 0.1, 0.3, 1.5, 1, 0.5, 0.3, 0]
PR_P14 = [NA, 2.5, 3, 3.5, 5, 2, 0, 0.5, 0.3, 0, 0, 0, 0, 0, 0, 0, 0.3] + [1, 1.5, 1, 0.5, 0.5, 1, 0.5, 0.3, 0.5, 0.5, 0.3, 0.5] + \
    [1, 0.5, 0.3, 0.5, 1, 0.5, 1, 0.5, 0.3, 0.2, 0.3, 0.2] + [0.1, 0.3, 0.2, 0, 0.2, 0.3, 0.5, 0.2, 0.1, 0.3, 0.2, 0.3] + [0.5, 0.3, 0.2, 0.3, 0.5, 0.2, 0.3, 0.5, 5.4, 1, 0.5, 0]
PR_P15 = [NA, 1.5, 2, 2.5, 5, 2, 0, 0.3, 0.2, 0, 0, 0, 0, 0, 0, 0, 0.2] + [0.5, 1, 0.5, 0.3, 0.5, 0.3, 0.2, 0.5, 1, 0.5, 0.3, 0.2] + \
    [0.5, 0.3, 0.2, 0.5, 0.3, 0.2, 0.5, 0.3, 0.2, 0.1, 0.2, 0.3] + [0.2, 0.1, 0, 0.2, 0.3, 0.1, 0.2, 0.3, 0.5, 0.3, 0.2, 0.5] + [1, 0.5, 0.3, 0.2, 0.3, 0.5, 0.2, 0.3, 0.5, 0.3, 0.2, 0]
PR_P16 = [NA, 2, 2.5, 3, 5.5, 2, 0, 0.5, 0.3, 0, 0, 0, 0, 0, 0, 0, 0.3] + [1, 1.5, 1, 0.5, 0.5, 0.3, 0.5, 1, 2, 1, 0.5, 0.3] + \
    [0.5, 1, 0.5, 1, 2, 1, 1, 3, 1.5, 8.6, 3, 1] + [0.2, 0.3, 0.5, 0.2, 0.1, 0.3, 0.2, 0.5, 0.3, 0.2, 0.1, 0.3] + [0.5, 0.3, 0.2, 0.5, 0.3, 1, 0.5, 0.3, 0.2, 0.5, 0.3, 0]
PR_P17 = [NA, 2, 3, 3.5, 5, 2, 0, 0.5, 0.5, 0, 0, 0, 0, 0, 0, 0, 0.3] + [0.5, 1, 0.5, 0.5, 0.3, 0.5, 0.3, 0.5, 1, 0.5, 0.3, 0.5] + \
    [0.3, 0.5, 0.3, 0.5, 0.3, 0.2, 0.5, 0.3, 0.2, 0.3, 0.5, 0.3] + [0.2, 0.1, 0.3, 0.2, 0, 0.1, 0.3, 0.2, 0.5, 0.3, 0.2, 0.3] + [0.5, 1, 1.5, 1, 0.5, 0.3, 0.5, 1, 0.5, 0.3, 0.2, 0]
PR_P18 = [NA, 2, 2.5, 3, 5, 2, 0, 0.5, 0.3, 0, 0, 0, 0, 0, 0, 0, 0.3] + [1, 1, 0.5, 0.5, 0.3, 0.5, 0.3, 0.5, 1, 0.5, 0.3, 0.2] + \
    [0.5, 0.3, 0.2, 0.3, 0.5, 0.3, 0.2, 0.5, 0.3, 0.2, 0.1, 0.3] + [0.2, 0.1, 0.3, 0.5, 0.3, 0.2, 0.1, 0.3, 0.5, 1, 2, 4] + [5, 6.9, 5.5, 3, 1, 0.5, 0.3, 0.5, 0.3, 0.2, 0.5, 0]
PR_P19 = [NA, 2, 2.5, 3, 5.5, 2, 0, 0.5, 0.5, 0, 0, 0, 0, 0, 0, 0, 0.3] + [0.5, 1, 0.5, 0.3, 0.5, 0.3, 0.5, 0.3, 0.5, 1, 0.5, 0.3] + \
    [0.5, 0.3, 0.5, 0.3, 1, 0.5, 0.3, 0.5, 1, 0.5, 0.3, 0.2] + [0.3, 0.5, 0.3, 0.2, 0.5, 0.3, 0.2, 0.1, 0.3, 0.2, 0.5, 0.3] + [0.2, 0.1, 0.3, 0.5, 0.3, 0.2, 0.5, 0.3, 0.2, 0.1, 0.3, 0]
PR_P20 = [NA, 2, 2.5, 3, 5, 1.5, 0, 0.5, 0.3, 0, 0, 0, 0, 0, 0, 0, 0.5] + [2, 3, 6, 11.9, 3, 1, 0.5, 0.3, 0.5, 1, 0.5, 0.3] + \
    [0.5, 1, 0.5, 0.3, 0.5, 0.3, 0.2, 0.5, 0.3, 1, 0.5, 0.3] + [0.2, 0.3, 0.5, 0.3, 0.5, 1, 0.5, 0.3, 0.5, 1, 1.5, 1] + [0.5, 1, 2, 1, 0.5, 0.3, 0.5, 1, 2, 4, 11.4, 0.5]

T850_PERTS = [T850_P01, T850_P02, T850_P03, T850_P04, T850_P05, T850_P06, T850_P07, T850_P08, T850_P09, T850_P10,
              T850_P11, T850_P12, T850_P13, T850_P14, T850_P15, T850_P16, T850_P17, T850_P18, T850_P19, T850_P20]
T500_PERTS = [T500_P01, T500_P02, T500_P03, T500_P04, T500_P05, T500_P06, T500_P07, T500_P08, T500_P09, T500_P10,
              T500_P11, T500_P12, T500_P13, T500_P14, T500_P15, T500_P16, T500_P17, T500_P18, T500_P19, T500_P20]
PR_PERTS = [PR_P01, PR_P02, PR_P03, PR_P04, PR_P05, PR_P06, PR_P07, PR_P08, PR_P09, PR_P10,
            PR_P11, PR_P12, PR_P13, PR_P14, PR_P15, PR_P16, PR_P17, PR_P18, PR_P19, PR_P20]

for grp in (T850_PERTS, T500_PERTS, PR_PERTS):
    for j, s in enumerate(grp):
        assert len(s) == len(HOURS), (j, len(s))
for s in (T850_MEAN, T850_CTRL, T850_GFS, T500_MEAN, T500_CTRL, T500_GFS, PR_MEAN, PR_CTRL, PR_GFS):
    assert len(s) == len(HOURS), len(s)


def long_frame(series):
    vals = []
    for s in series:
        vals.extend(s)
    return pd.DataFrame({"hour": HOURS * len(series), "value": vals,
                         "member": np.repeat(MEMBERS, len(HOURS))})


# ---------------- figure ----------------
sns.set_style("white")
plt.rcParams["font.family"] = ["DejaVu Sans Mono", "DejaVu Sans"]
W, H = 740, 700
fig = plt.figure(figsize=(W / 100, H / 100), dpi=100)
fig.patch.set_facecolor("white")


def fx(px):
    return px / W


def fy(py):
    return 1 - py / H


PX_PER_C = 7.0
AX_TOP_PX, AX_BOT_PX, T_BOT_PX = 0, 599, 546
YMIN = -45 - (AX_BOT_PX - T_BOT_PX) / PX_PER_C
YMAX = 30 + (21 - AX_TOP_PX) / PX_PER_C


def py2t(py):
    return -45 - (py - T_BOT_PX) / PX_PER_C


ax = fig.add_axes([fx(50), fy(AX_BOT_PX), 640 / W, (AX_BOT_PX - AX_TOP_PX) / H])
ax.set_facecolor("white")
ax2 = ax.twinx()

GRID = "#c0c0c0"
for v in range(-45, 31, 5):
    ax.axhline(v, color=GRID, lw=1.5 if v % 10 == 0 else 0.8, zorder=0.5)
ax.axhline(0, color="#8a8a8a", lw=2.4, zorder=0.6)
ax.axhline(0, color="#d6d6d6", lw=0.6, zorder=0.7)
for h in range(0, 385, 24):
    ax.axvline(h, color=GRID, lw=0.8, zorder=0.5)

# snow risk row
snow_x = [h - 0.6 for h, p in zip(SNOW_HOURS, SNOW_PCT) if p is not None]
snow_p = [p for p in SNOW_PCT if p is not None]
bar_bottom = py2t(591)
bar_h = [(9 + 0.255 * p) / PX_PER_C for p in snow_p]
ax.bar(snow_x, bar_h, bottom=bar_bottom, width=6, color="#c4ffff", zorder=1, linewidth=0)
ax.scatter(snow_x, [py2t(588)] * len(snow_x), s=55, marker="o", color="#9dd0ff", linewidths=0, zorder=1.2)
ax.scatter(snow_x, [py2t(588)] * len(snow_x), s=30, marker="+", color="#3b8de8", linewidths=0.7, zorder=1.3)
ax.scatter(snow_x, [py2t(588)] * len(snow_x), s=22, marker="x", color="#5aa6f5", linewidths=0.6, zorder=1.3)
for xx, p in zip(snow_x, snow_p):
    ax.text(xx, py2t(582), "%d%%" % p, rotation=90, ha="center", va="bottom",
            fontsize=5.8, color="#0000ff", zorder=3)

# ensemble lines: perturbations then GFS, control, mean
df850 = long_frame(T850_PERTS)
df500 = long_frame(T500_PERTS)
dfpr = long_frame(PR_PERTS)
pert_kws = dict(x="hour", y="value", hue="member", hue_order=MEMBERS, palette=PERT_COLORS,
                estimator=None, sort=False, lw=0.8, marker="+", markersize=3.5, legend=False)
sns.lineplot(data=df850, ax=ax, zorder=2, **pert_kws)
sns.lineplot(data=df500, ax=ax, zorder=2, **pert_kws)
sns.lineplot(data=dfpr, ax=ax2, zorder=2, **pert_kws)

for target, (gfs, ctrl, mean) in ((ax, (T850_GFS, T850_CTRL, T850_MEAN)),
                                  (ax, (T500_GFS, T500_CTRL, T500_MEAN)),
                                  (ax2, (PR_GFS, PR_CTRL, PR_MEAN))):
    sns.lineplot(x=HOURS, y=gfs, color="black", lw=2.3, ax=target, zorder=3)
    sns.lineplot(x=HOURS, y=ctrl, color="#0000ff", lw=2.5, ax=target, zorder=4)
    sns.lineplot(x=HOURS, y=mean, color="#ff0000", lw=3.0, ax=target, zorder=5)

for a in (ax, ax2):
    for ln in a.lines:
        ln.set_markeredgecolor(ln.get_color())
        ln.set_markeredgewidth(0.8)
        ln.set_solid_joinstyle("round")

ax.set_xlim(0, 384)
ax.set_ylim(YMIN, YMAX)
ax2.set_ylim(YMIN + 45, YMAX + 45)
ax.set_xticks([])
ax.set_yticks(range(-45, 31, 5))
ax2.set_yticks(range(0, 76, 5))
ax.tick_params(axis="y", length=0, pad=13, labelsize=7.5)
ax2.tick_params(axis="y", length=0, pad=14, labelsize=7.5)
for a in (ax, ax2):
    a.set_xlabel("")
    a.set_ylabel("")
    for side in ("top", "left", "right"):
        a.spines[side].set_visible(False)
    a.spines["bottom"].set_visible(False)
ax.spines["bottom"].set_visible(True)
ax.spines["bottom"].set_color("black")
ax.spines["bottom"].set_linewidth(1.1)

# date labels under the axis
trans = mtransforms.blended_transform_factory(ax.transData, ax.transAxes)
for j, d in enumerate(DATES):
    ax.text(j * 24 + 1.2, -3 / 599, d, transform=trans, rotation=90, ha="left", va="top",
            fontsize=7.5, clip_on=False)

# labels inside the plot
ax2.text(6, py2t(255) + 45, "Temp. 850hPa", fontsize=7.5, va="center", zorder=10)
ax2.text(6, py2t(411) + 45, "Temp. 500hPa", fontsize=7.5, va="center", zorder=10)
ax2.text(6, py2t(478) + 45, "Précipitations", fontsize=7.5, va="center", zorder=10)

fig.text(fx(19), fy(606), "(°C)", fontsize=7.5, va="center")
fig.text(fx(708), fy(606), "(mm)", fontsize=7.5, va="center")

# legend
fig.add_artist(Line2D([fx(35), fx(66)], [fy(637)] * 2, color="#ff0000", lw=3.8, solid_capstyle="butt"))
fig.text(fx(75), fy(637), "Moyenne des scénarios", fontsize=7.4, va="center")
fig.add_artist(Line2D([fx(226), fx(257)], [fy(637)] * 2, color="#0000ff", lw=3.8, solid_capstyle="butt"))
fig.text(fx(266), fy(637), "Run de contrôle", fontsize=7.4, va="center")
fig.add_artist(Line2D([fx(226), fx(257)], [fy(648)] * 2, color="black", lw=3.8, solid_capstyle="butt"))
fig.text(fx(266), fy(648), "Run GFS", fontsize=7.4, va="center")
ax.scatter([fx(60)], [fy(659)], transform=fig.transFigure, s=55, marker="o", color="#9dd0ff",
           linewidths=0, clip_on=False)
ax.scatter([fx(60)], [fy(659)], transform=fig.transFigure, s=30, marker="+", color="#3b8de8",
           linewidths=0.7, clip_on=False)
fig.text(fx(75), fy(659), "Risque neige", fontsize=7.4, va="center")
fig.text(fx(180), fy(660), "Altitude du modele : 407m", fontsize=7.4, va="center")
fig.text(fx(370), fy(652), "20 Perturbations", fontsize=7.4, va="center")
for j, (m, c) in enumerate(zip(MEMBERS, PERT_COLORS)):
    x0 = 470 + 10.9 * j
    fig.add_artist(Rectangle((fx(x0), fy(656)), 10.2 / W, 6 / H, transform=fig.transFigure,
                             facecolor=c, edgecolor="none"))
    fig.text(fx(x0 + 5.1), fy(642.5), m, fontsize=5.3, ha="center", va="center", fontweight="bold")

fig.add_artist(Rectangle((fx(18), fy(698)), 423 / W, 31 / H, transform=fig.transFigure,
                         facecolor="none", edgecolor="black", lw=1.0))
fig.text(fx(28), fy(677), "Diagramme des ensembles GEFS sur 384h : 43N 25.5E", fontsize=8.2,
         fontweight="bold", va="center")
fig.text(fx(28), fy(691), "Températures 850hPa et 500hPa (°C) , précipitations (mm)", fontsize=7.2,
         va="center")
fig.text(fx(450), fy(673), "Ensemble GEFS du 10/01/2017 - 00Z", fontsize=7.3, va="center")
fig.text(fx(450), fy(692), "Copyright 2017 Meteociel.fr", fontsize=8.3, fontweight="bold", va="center")

fig.savefig("out.png", dpi=100)
